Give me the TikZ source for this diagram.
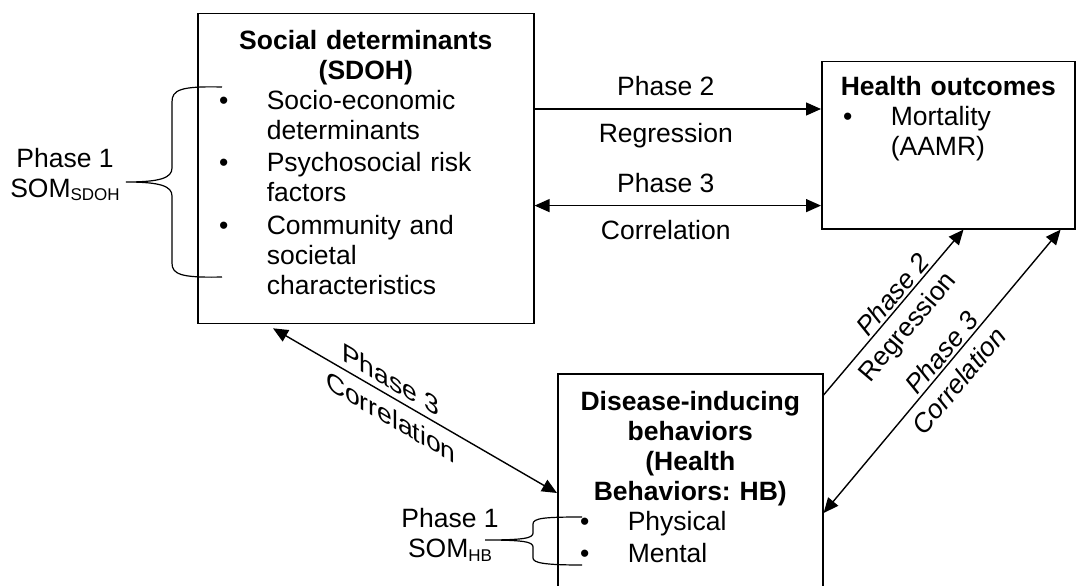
\documentclass[tikz,border=0pt]{standalone}
\usepackage{fontspec}
\setmainfont{Liberation Sans}
\usetikzlibrary{arrows.meta,calc}

% text size used everywhere in the chart
\newcommand{\dfont}{\fontsize{26.5pt}{30pt}\selectfont\frenchspacing}
\newcommand{\lowsub}[1]{\raisebox{-3.5pt}{\fontsize{17pt}{17pt}\selectfont #1}}
% bullet list inside the boxes, #1 = indent of the item text
\newenvironment{blist}[1]{\begin{list}{\textbullet}{%
  \setlength{\leftmargin}{#1}\setlength{\labelsep}{38.5pt}%
  \setlength{\labelwidth}{\dimexpr#1-38.5pt\relax}%
  \setlength{\itemsep}{2.5pt}\setlength{\parsep}{0pt}%
  \setlength{\topsep}{0pt}\setlength{\partopsep}{0pt}}}{\end{list}}

\begin{document}
\begin{tikzpicture}[x=1pt, y=-1pt,
    box/.style={draw, line width=1.6pt, anchor=north west, inner ysep=0pt, font=\dfont},
    lab/.style={font=\dfont, inner sep=0pt},
    slnt/.style={font=\dfont\itshape, inner sep=0pt},
    fwd/.style={line width=1.4pt, -{Triangle[length=15pt,width=13pt]}},
    both/.style={line width=1.4pt, {Triangle[length=15pt,width=13pt]}-{Triangle[length=15pt,width=13pt]}},
    brc/.style={line width=1.2pt}]
  \clip (0,0) rectangle (1079,586);
  \fill[white] (0,0) rectangle (1079,586);

  % the three boxes
  \node[box, inner xsep=10pt, text width=316pt, text height=35.8pt, text depth=274.2pt] (sd) at (197,12.7) {%
    {\centering\bfseries Social determinants\\(SDOH)\par}
    \begin{blist}{59pt}
      \item Socio-economic\\determinants
      \item Psychosocial risk\\factors
      \item Community and\\societal\\characteristics
    \end{blist}};
  \node[box, inner xsep=19pt, text width=215pt, text height=34.3pt, text depth=133pt] (ho) at (821,60.7) {%
    {\bfseries Health outcomes\par}
    \begin{blist}{50pt}
      \item Mortality\\(AAMR)
    \end{blist}};
  \node[box, inner xsep=10pt, text width=245pt, text height=36.5pt, text depth=190.5pt] (hb) at (557,373) {%
    {\centering\bfseries Disease-inducing\\behaviors\\(Health\\Behaviors: HB)\par}
    \begin{blist}{60pt}
      \item Physical
      \item Mental
    \end{blist}};

  % phase 1 labels
  \node[lab, align=center] (somsd) at (65,174.5) {Phase 1\\SOM\lowsub{SDOH}};
  \node[lab, align=center] (somhb) at (450,535) {Phase 1\\SOM\lowsub{HB}};

  % braces
  \draw[brc] (222,87) .. controls (180,86) and (172,90) .. (172,102) -- (172,168)
    .. controls (172,178) and (160,182) .. (126,182)
    .. controls (160,182) and (172,186) .. (172,196) -- (172,263)
    .. controls (172,274) and (180,278) .. (222,277);
  \draw[brc] (582,517) .. controls (545,517) and (533,518) .. (533,524) -- (533,533)
    .. controls (533,538) and (525,540) .. (485,540)
    .. controls (525,540) and (533,542) .. (533,547) -- (533,558)
    .. controls (533,563) and (545,565) .. (582,565);

  % horizontal links
  \coordinate (p2) at ($(ho.north west)+(0,48.3)$);
  \coordinate (p3) at ($(ho.south west)+(0,-24)$);
  \draw[fwd] (sd.east |- p2) -- node[pos=.458, lab, above=12.5pt] {Phase 2}
    node[pos=.458, lab, below=14pt] {Regression} (p2);
  \draw[both] (sd.east |- p3) -- node[pos=.458, lab, above=12.5pt] {Phase 3}
    node[pos=.458, lab, below=14pt] {Correlation} (p3);

  % links to the behaviour box
  \draw[both] ($(sd.south west)+(76,4)$) --
    node[pos=.415, lab, yslant=-0.584, above=6.8pt] {Phase 3}
    node[pos=.415, lab, yslant=-0.584, below=9.8pt] {Correlation}
    ($(hb.north west)+(0,120)$);
  \draw[fwd] ($(hb.north east)+(0,22)$) --
    node[pos=.56, sloped, slnt, above=2pt] {Phase 2}
    node[pos=.49, sloped, lab, below=8.5pt] {Regression}
    ($(ho.south west)+(142.5,0)$);
  \draw[both] ($(hb.north east)+(0,140)$) --
    node[pos=.538, sloped, slnt, above=2pt] {Phase 3}
    node[pos=.51, sloped, slnt, below=8.5pt] {Correlation}
    ($(ho.south east)+(-15,0)$);
\end{tikzpicture}
\end{document}
